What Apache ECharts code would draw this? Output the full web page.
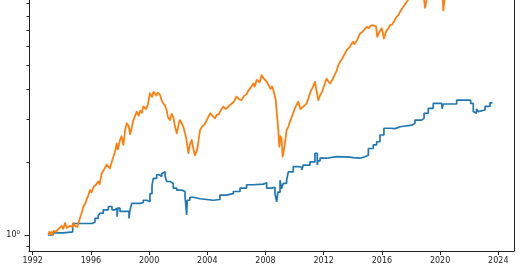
<!DOCTYPE html>
<html>
<head>
<meta charset="utf-8">
<script src="https://cdn.jsdelivr.net/npm/echarts@6/dist/echarts.min.js"></script>
<style>
html,body{margin:0;padding:0;background:#fff;}
#c{width:520px;height:272px;}
</style>
</head>
<body>
<div id="c"></div>
<script>
// ---- data ----
const orangeYears = [1993.08,1993.14,1993.19,1993.3,1993.35,1993.45,1993.5,1993.6,1993.7,1993.85,1994.0,1994.1,1994.22,1994.35,1994.45,1994.55,1994.65,1994.72,1994.8,1994.9,1995.0,1995.07,1995.2,1995.3,1995.4,1995.48,1995.6,1995.7,1995.8,1995.94,1996.05,1996.2,1996.35,1996.5,1996.6,1996.74,1996.85,1996.95,1997.08,1997.2,1997.3,1997.43,1997.6,1997.7,1997.77,1997.85,1998.0,1998.1,1998.23,1998.35,1998.46,1998.6,1998.69,1998.8,1998.9,1999.0,1999.15,1999.28,1999.4,1999.5,1999.6,1999.8,1999.92,2000.06,2000.2,2000.3,2000.4,2000.5,2000.6,2000.75,2000.85,2000.95,2001.1,2001.2,2001.3,2001.44,2001.55,2001.66,2001.75,2001.9,2002.1,2002.22,2002.35,2002.45,2002.55,2002.7,2002.8,2002.93,2003.05,2003.15,2003.3,2003.4,2003.5,2003.65,2003.8,2004.0,2004.2,2004.35,2004.53,2004.65,2004.8,2004.95,2005.1,2005.25,2005.4,2005.55,2005.68,2005.85,2006.0,2006.2,2006.36,2006.5,2006.7,2006.85,2007.0,2007.16,2007.25,2007.4,2007.5,2007.6,2007.74,2007.85,2007.95,2008.08,2008.2,2008.35,2008.45,2008.54,2008.7,2008.8,2008.88,2008.95,2009.02,2009.1,2009.18,2009.3,2009.45,2009.58,2009.7,2009.8,2009.9,2010.05,2010.25,2010.4,2010.5,2010.65,2010.83,2010.95,2011.1,2011.25,2011.4,2011.55,2011.63,2011.75,2011.9,2012.05,2012.2,2012.3,2012.43,2012.6,2012.78,2012.9,2013.0,2013.12,2013.25,2013.4,2013.5,2013.58,2013.7,2013.8,2013.9,2014.03,2014.1,2014.3,2014.4,2014.5,2014.65,2014.8,2014.95,2015.1,2015.2,2015.4,2015.5,2015.6,2015.68,2015.85,2015.98,2016.06,2016.14,2016.3,2016.45,2016.56,2016.7,2016.8,2017.0,2017.15,2017.25,2017.47,2017.65,2017.8,2018.0,2018.2,2018.5,2018.75,2018.97,2019.2,2019.5,2019.8,2020.1,2020.22,2020.4,2020.7,2021.0,2021.5,2022.0,2022.4,2022.75,2023.0,2023.6];
const orangeValues = [1.00,1.03,1.01,1.03,1.00,1.04,1.05,1.03,1.05,1.07,1.09,1.06,1.12,1.07,1.055,1.09,1.10,1.08,1.12,1.09,1.07,1.08,1.15,1.20,1.25,1.31,1.34,1.40,1.44,1.53,1.50,1.58,1.61,1.66,1.62,1.79,1.84,1.88,1.95,1.97,1.88,1.85,2.15,2.25,2.38,2.25,2.46,2.55,2.35,2.70,2.88,2.80,2.60,2.75,2.95,3.05,3.22,3.10,3.25,3.18,3.38,3.30,3.45,3.83,3.70,3.88,3.95,3.75,3.85,3.77,3.60,3.50,3.40,3.27,3.05,2.97,3.15,3.07,2.85,2.62,2.97,2.90,2.79,2.65,2.50,2.17,2.35,2.46,2.25,2.13,2.24,2.45,2.70,2.80,2.85,3.00,3.17,3.10,3.02,3.12,3.15,3.28,3.38,3.30,3.35,3.42,3.48,3.55,3.71,3.62,3.59,3.72,3.80,3.95,4.05,4.20,4.08,4.35,4.40,4.25,4.55,4.42,4.35,4.28,4.20,4.00,4.08,3.95,3.60,3.07,2.70,2.31,2.55,2.50,2.10,2.30,2.70,2.80,2.95,3.05,3.17,3.35,3.54,3.30,3.27,3.40,3.48,3.65,3.90,4.05,4.27,3.80,3.59,3.75,3.90,4.15,4.40,4.30,4.20,4.35,4.60,4.75,5.00,5.08,5.30,5.50,5.40,5.76,5.85,5.95,6.10,6.24,6.10,6.35,6.55,6.75,6.85,7.00,7.19,7.10,7.25,7.30,7.35,7.20,6.54,6.90,7.09,6.80,6.43,6.90,7.10,7.30,7.35,7.50,7.90,8.05,8.30,8.70,9.00,9.30,10.3,9.7,10.6,11.0,8.6,10.2,11.0,11.5,12.2,8.4,10.5,12.5,13.8,15.5,17.0,14.0,13.0,14.5,16.5];

const blueYears = [1993.05,1993.4,1994.1,1994.75,1996.1,1996.28,1996.5,1996.63,1996.85,1997.2,1997.45,1997.66,1997.8,1997.85,1998.0,1998.62,1998.67,1998.8,1999.4,1999.6,1999.85,2000.06,2000.2,2000.29,2000.52,2000.7,2000.87,2000.98,2001.1,2001.21,2001.44,2001.66,2001.9,2002.24,2002.47,2002.58,2002.62,2002.8,2003.04,2003.5,2004.41,2004.87,2005.3,2005.79,2006.25,2006.7,2007.16,2007.85,2008.08,2008.42,2008.65,2008.77,2008.85,2009.0,2009.1,2009.22,2009.45,2009.57,2009.91,2010.3,2010.49,2010.6,2011.06,2011.4,2011.56,2011.6,2011.75,2012.2,2012.9,2013.8,2014.03,2014.5,2014.84,2015.07,2015.41,2015.64,2015.87,2016.14,2016.56,2016.9,2017.25,2018.05,2018.27,2018.73,2018.9,2019.19,2019.53,2020.1,2020.15,2020.2,2021.14,2021.94,2022.1,2022.28,2022.4,2022.5,2022.62,2022.74,2023.09,2023.43,2023.6];
const blueValues = [1.00,1.02,1.03,1.115,1.13,1.17,1.20,1.23,1.27,1.31,1.27,1.29,1.19,1.29,1.25,1.17,1.25,1.35,1.36,1.39,1.37,1.48,1.60,1.71,1.77,1.74,1.79,1.82,1.75,1.66,1.63,1.56,1.53,1.51,1.44,1.21,1.39,1.43,1.41,1.39,1.40,1.46,1.48,1.51,1.56,1.61,1.62,1.64,1.56,1.57,1.48,1.37,1.50,1.68,1.55,1.63,1.68,1.82,1.91,1.90,1.85,1.94,2.00,2.17,1.94,2.02,2.07,2.10,2.09,2.08,2.07,2.10,2.13,2.27,2.35,2.42,2.58,2.75,2.74,2.79,2.83,2.88,2.97,3.02,3.17,3.32,3.48,3.48,3.30,3.46,3.59,3.59,3.48,3.22,3.17,3.30,3.22,3.27,3.38,3.50,3.50];

const xTickLabels = [1992,1996,2000,2004,2008,2012,2016,2020,2024];
const yMajorTicks = [1];
const yMinorTicks = [0.9,2,3,4,5,6,7,8,9];

// ---- axes extents (plot area is cut by the top of the picture) ----
const xMin = 1991.746, xMax = 2025.08;
const yMin = Math.pow(10, -16/243), yMax = Math.pow(10, 235/243);

const zip = (a, b) => a.map((v, i) => [v, b[i]]);
const tickData = yMajorTicks.map(v => [xMin, v, 1]).concat(yMinorTicks.map(v => [xMin, v, 0]));

const chart = echarts.init(document.getElementById('c'), null, {renderer: 'canvas'});
chart.setOption({
  animation: false,
  backgroundColor: '#fff',
  grid: {left: 29, right: 6, top: 0, bottom: 21, show: false},
  xAxis: {
    type: 'value', min: xMin, max: xMax,
    axisLine: {show: true, onZero: false, lineStyle: {color: '#222', width: 1}},
    splitLine: {show: false},
    axisTick: {show: true, customValues: xTickLabels, length: 4, lineStyle: {color: '#222', width: 1}},
    axisLabel: {customValues: xTickLabels, fontFamily: 'DejaVu Sans', fontSize: 8, color: '#222', margin: 6,
      formatter: v => String(Math.round(v))}
  },
  yAxis: [{
    type: 'log', logBase: 10, min: yMin, max: yMax,
    axisLine: {show: true, lineStyle: {color: '#222', width: 1}},
    splitLine: {show: false},
    axisTick: {show: false},
    axisLabel: {margin: 9, showMinLabel: false, showMaxLabel: false,
      formatter: v => (Math.abs(v - 1) < 1e-6 ? '{a|10}{b|0}' : ''),
      rich: {a: {fontFamily: 'DejaVu Sans', fontSize: 8, color: '#222'},
             b: {fontFamily: 'DejaVu Sans', fontSize: 5.5, color: '#222', verticalAlign: 'top', padding: [0,0,5,0]}}}
  }, {
    type: 'log', logBase: 10, min: yMin, max: yMax, position: 'right',
    axisLine: {show: true, lineStyle: {color: '#222', width: 1}},
    splitLine: {show: false}, axisTick: {show: false}, axisLabel: {show: false}
  }],
  series: [
    {type: 'line', name: 'blue', data: zip(blueYears, blueValues), step: 'end', showSymbol: false, clip: true,
     lineStyle: {color: '#1f77b4', width: 1.7}, itemStyle: {color: '#1f77b4'}, z: 2},
    {type: 'line', name: 'orange', data: zip(orangeYears, orangeValues), showSymbol: false, clip: true,
     lineStyle: {color: '#ff7f0e', width: 1.8, join: 'round'}, itemStyle: {color: '#ff7f0e'}, z: 3},
    {type: 'custom', data: tickData, clip: false, silent: true, z: 5,
     encode: {x: 0, y: 1},
     renderItem: (params, api) => {
       const p = api.coord([api.value(0), api.value(1)]);
       const len = api.value(2) ? 4.5 : 2.5;
       const y = Math.round(p[1]) + 0.5;
       return {type: 'line', shape: {x1: p[0] - len, y1: y, x2: p[0], y2: y},
               style: {stroke: '#222', lineWidth: 1}};
     }}
  ]
});
</script>
</body>
</html>
